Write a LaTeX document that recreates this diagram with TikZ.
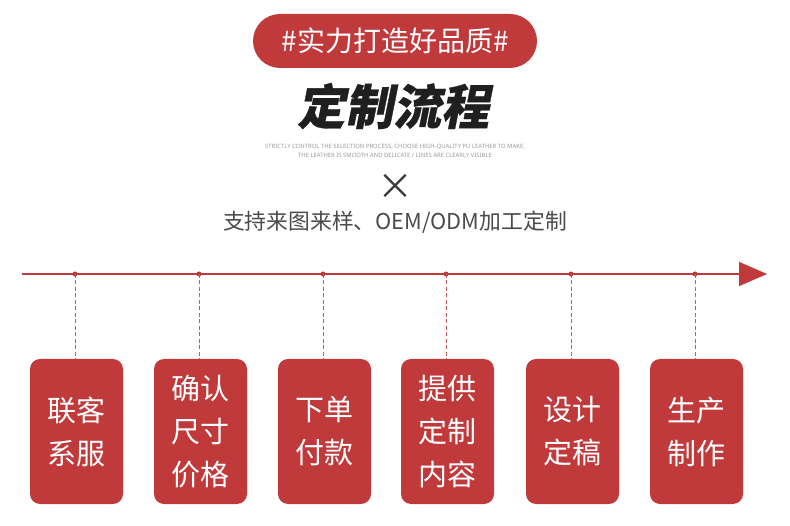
\documentclass[tikz,border=0pt]{standalone}
\usepackage{fontspec}
\setmainfont{Noto Sans}
\newfontfamily\cjk{Noto Sans CJK SC}
\newfontfamily\cjktitle[FakeSlant=0.2,FakeBold=0.6]{Noto Sans CJK SC}
\usetikzlibrary{arrows.meta}
\definecolor{brandred}{HTML}{C0393B}
\definecolor{dashred}{HTML}{C9575A}
\definecolor{subgray}{HTML}{4A4A4A}
\definecolor{tinygray}{HTML}{9A9A9A}
\tikzset{
  stepbox/.style={fill=brandred, rounded corners=10pt, minimum width=93pt, minimum height=145pt, inner sep=0pt,
    text=white, align=center, font=\cjk\fontsize{29}{43}\selectfont},
  dotmark/.style={circle, fill=brandred, inner sep=0pt, minimum size=5pt},
  dropline/.style={dashred, dashed, dash pattern=on 4pt off 2.5pt, line width=0.9pt},
}
\begin{document}
\begin{tikzpicture}[x=1pt,y=-1pt]
\useasboundingbox (0,0) rectangle (790,526);
% header pill
\node[fill=brandred, rounded corners=27pt, minimum width=284pt, minimum height=54pt, inner sep=0pt,
  text=white, font=\cjk\fontsize{28}{30}\selectfont] (pill) at (395,41) {\#实力打造好品质\#};
\node[font=\cjktitle\bfseries\fontsize{48}{50}\selectfont, text=black!88] (title) at (393,106) {定制流程};
\node[font=\fontsize{5.9}{9}\selectfont, text=tinygray, align=center] (eng) at (395,150.5)
  {STRICTLY CONTROL THE SELECTION PROCESS, CHOOSE HIGH-QUALITY PU LEATHER TO MAKE,\\THE LEATHER IS SMOOTH AND DELICATE / LINES ARE CLEARLY VISIBLE};
\node[font=\cjk\fontsize{36}{36}\selectfont, text=subgray!80!black, inner sep=0pt] (times) at (395,187) {×};
\node[font=\cjk\fontsize{21.8}{24}\selectfont, text=subgray] (sub) at (395,222) {支持来图来样、OEM/ODM加工定制};
% timeline
\coordinate (tstart) at (22,274);
\coordinate (tend) at (767,274);
\draw[brandred, line width=1.4pt, -{Triangle[length=28pt,width=24pt]}] (tstart) -- (tend);
\foreach \i/\x/\txt in {1/75/{联客\\系服},2/199/{确认\\尺寸\\价格},3/323/{下单\\付款},4/446/{提供\\定制\\内容},5/571/{设计\\定稿},6/695/{生产\\制作}} {
  \node[dotmark] (d\i) at (\x,274) {};
  \node[stepbox] (b\i) at (\x+1.5,431.5) {\txt};
  \draw[dropline] (d\i.center) -- (d\i.center |- b\i.north);
}
\end{tikzpicture}
\end{document}
